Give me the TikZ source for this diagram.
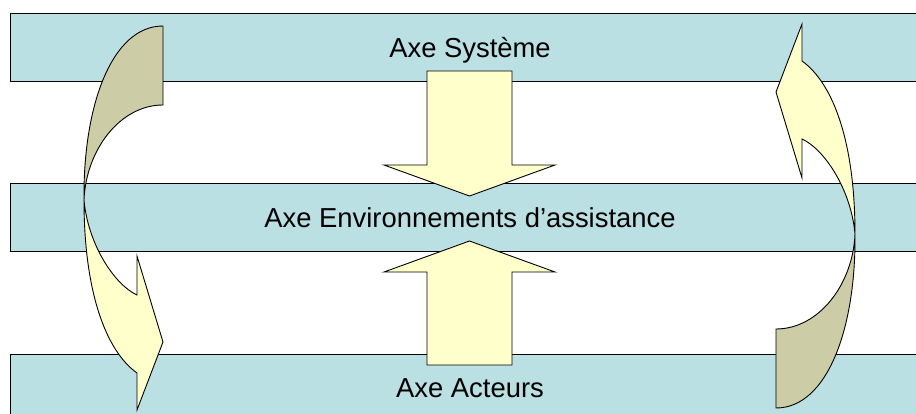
\documentclass[tikz,border=0pt]{standalone}
\usepackage{fontspec}
\setmainfont{Liberation Sans}
\definecolor{bandblue}{RGB}{187,224,227}
\definecolor{tanfill}{RGB}{204,204,166}
\definecolor{yellowfill}{RGB}{255,255,204}
\tikzset{
  band/.style={draw=black, line width=1pt, fill=bandblue, inner sep=0pt,
    minimum width=920pt, minimum height=68pt, text height=19.5pt, text depth=0pt,
    font=\fontsize{27.4}{32}\selectfont},
  backpart/.style={draw=black, line width=0.9pt, fill=tanfill, line join=miter},
  frontpart/.style={draw=black, line width=0.9pt, fill=yellowfill, line join=miter},
}
\begin{document}
\begin{tikzpicture}[x=1pt, y=-1pt]
\useasboundingbox (0,0) rectangle (916,414);
\clip (0,0) rectangle (916,414);
\fill[white] (0,0) rectangle (916,414);
% bands
\node[band] (sys) at (470,48) {Axe Système};
\node[band] (env) at (470,218) {Axe Environnements d’assistance};
\node[band] (act) at (470,388) {Axe Acteurs};
% straight block arrows
\draw[frontpart] (427,71) -- (512,71) -- (512,165) -- (555,165) -- (469.5,196)
  -- (384,165) -- (427,165) -- cycle;
\draw[frontpart] (427,365) -- (512,365) -- (512,272) -- (555,272) -- (469.5,241)
  -- (384,272) -- (427,272) -- cycle;
% left curved arrow
\draw[backpart] (163,26) .. controls (112,26) and (83,105) .. (84,200)
  .. controls (86,150) and (120,105) .. (163,105) -- cycle;
\draw[frontpart] (84,200) .. controls (84,290) and (105,350) .. (137,373)
  -- (137,410) -- (163,342) -- (137,256) -- (137,295)
  .. controls (115,285) and (88,245) .. (84,200) -- cycle;
% right curved arrow (same shape turned half round)
\begin{scope}[rotate around={180:(469.5,217)}]
\draw[backpart] (163,26) .. controls (112,26) and (83,105) .. (84,200)
  .. controls (86,150) and (120,105) .. (163,105) -- cycle;
\draw[frontpart] (84,200) .. controls (84,290) and (105,350) .. (137,373)
  -- (137,410) -- (163,342) -- (137,256) -- (137,295)
  .. controls (115,285) and (88,245) .. (84,200) -- cycle;
\end{scope}
\end{tikzpicture}
\end{document}
